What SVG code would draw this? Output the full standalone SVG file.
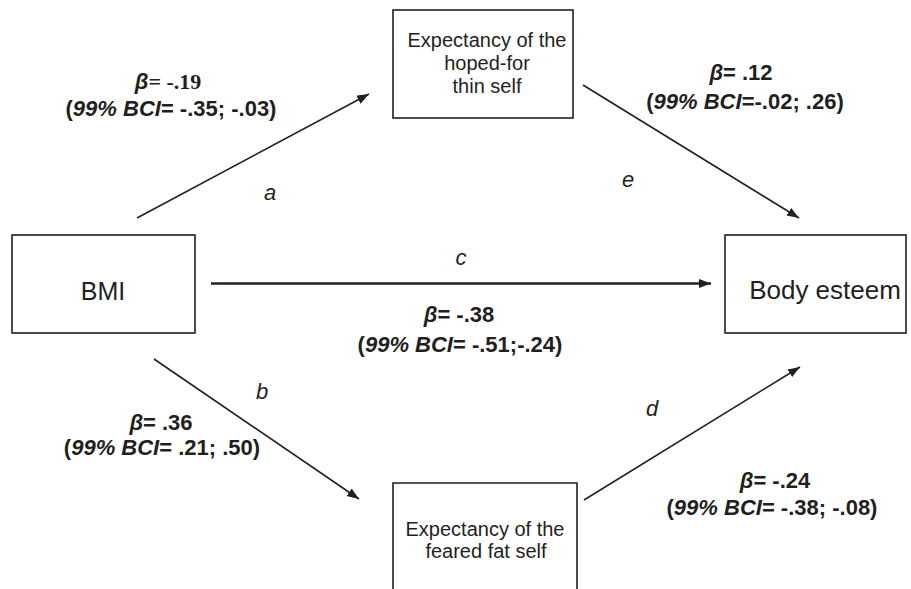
<svg xmlns="http://www.w3.org/2000/svg" width="911" height="589" viewBox="0 0 911 589">
<style>
.box{fill:none;stroke:#231f20;stroke-width:1.6}
.node{font-family:"Liberation Sans",Arial,sans-serif;fill:#231f20;text-anchor:middle}
.lbl{font-family:"Liberation Sans",Arial,sans-serif;font-weight:bold;font-size:22px;fill:#231f20;text-anchor:middle}
.it{font-style:italic}
.ser{font-family:"Liberation Serif","Times New Roman",serif}
.path{font-family:"Liberation Sans",Arial,sans-serif;font-style:italic;font-size:22px;fill:#231f20;text-anchor:middle}
.conn{stroke:#231f20;stroke-width:1.6;fill:none;marker-end:url(#ah)}
</style>
<defs>
<marker id="ah" markerUnits="userSpaceOnUse" markerWidth="13" markerHeight="10" refX="12" refY="4.5" orient="auto">
<path d="M0,0 L12,4.5 L0,9 z" fill="#231f20"/>
</marker>
</defs>
<rect width="911" height="589" fill="#fff"/>

<g id="node-thin">
<rect class="box" x="393" y="10" width="180" height="108"/>
<text class="node" font-size="20" x="487" y="47">Expectancy of the</text>
<text class="node" font-size="20" x="487" y="70">hoped-for</text>
<text class="node" font-size="20" x="487" y="93">thin self</text>
</g>

<g id="node-bmi">
<rect class="box" x="12" y="235" width="183" height="98"/>
<text class="node" font-size="25" x="103" y="300">BMI</text>
</g>

<g id="node-esteem">
<rect class="box" x="725" y="235" width="181" height="98"/>
<text class="node" font-size="26" x="825" y="299">Body esteem</text>
</g>

<g id="node-fat">
<path class="box" d="M393,590 V483 H577 V590"/>
<text class="node" font-size="20" x="485" y="536">Expectancy of the</text>
<text class="node" font-size="20" x="486" y="558">feared fat self</text>
</g>

<g id="connectors">
<line class="conn" x1="137" y1="218" x2="369" y2="94"/>
<line class="conn" x1="583" y1="85" x2="799" y2="218"/>
<line class="conn" x1="211" y1="283.5" x2="711" y2="283.5" style="stroke-width:2.7"/>
<line class="conn" x1="154" y1="359" x2="359" y2="499"/>
<line class="conn" x1="584" y1="500" x2="800" y2="367"/>
</g>

<g id="labels">
<text class="lbl" x="168" y="89"><tspan class="it">β</tspan><tspan class="ser">= -.19</tspan></text>
<text class="lbl" x="171" y="116">(<tspan class="it">99% BCI</tspan>= -.35; -.03)</text>
<text class="path" x="270" y="200">a</text>

<text class="lbl" x="741" y="80"><tspan class="it">β</tspan>= .12</text>
<text class="lbl" x="745" y="109">(<tspan class="it">99% BCI</tspan>=-.02; .26)</text>
<text class="path" x="628" y="187">e</text>

<text class="path" x="461" y="265">c</text>
<text class="lbl" x="459" y="322"><tspan class="it">β</tspan>= -.38</text>
<text class="lbl" x="460" y="352">(<tspan class="it">99% BCI</tspan>= -.51;-.24)</text>

<text class="path" x="262" y="399">b</text>
<text class="lbl" x="161" y="430"><tspan class="it">β</tspan>= .36</text>
<text class="lbl" x="162" y="455">(<tspan class="it">99% BCI</tspan>= .21; .50)</text>

<text class="path" x="652" y="416">d</text>
<text class="lbl" x="775" y="488"><tspan class="it">β</tspan>= -.24</text>
<text class="lbl" x="772" y="515">(<tspan class="it">99% BCI</tspan>= -.38; -.08)</text>
</g>
</svg>
